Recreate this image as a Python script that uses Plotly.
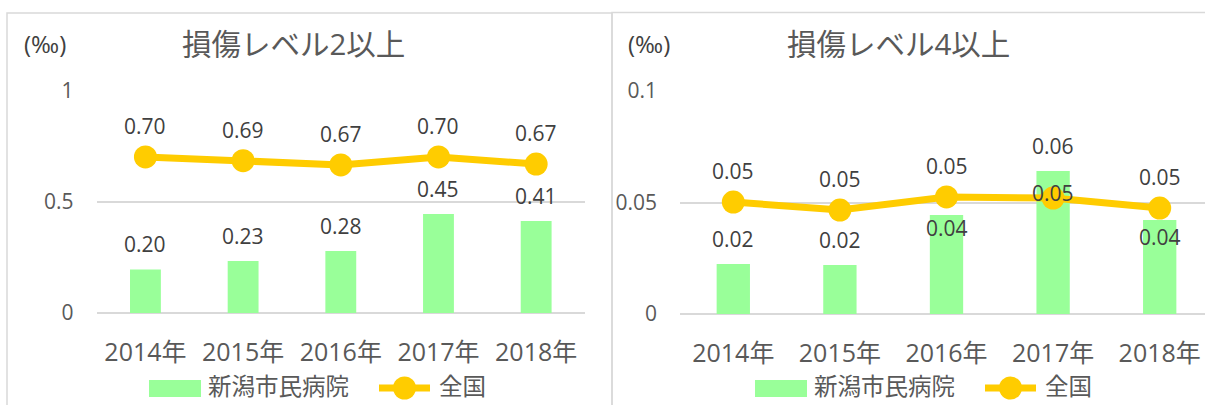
import plotly.graph_objects as go

W, H = 1205, 405

# ---------------- data ----------------
years = ["2014年", "2015年", "2016年", "2017年", "2018年"]
hosp_lv2 = [0.196, 0.234, 0.279, 0.446, 0.414]   # 新潟市民病院 (bars) 損傷レベル2以上
natl_lv2 = [0.703, 0.686, 0.667, 0.703, 0.671]   # 全国 (line) 損傷レベル2以上
hosp_lv4 = [0.0224, 0.0220, 0.0444, 0.0641, 0.0422]  # 新潟市民病院 損傷レベル4以上
natl_lv4 = [0.0502, 0.0466, 0.0525, 0.0520, 0.0475]  # 全国 損傷レベル4以上
series_names = ["新潟市民病院", "全国"]
titles = ["損傷レベル2以上", "損傷レベル4以上"]
unit = "(‰)"
ticks_lv2 = [0, 0.5, 1]
ticktext_lv2 = ["0", "0.5", "1"]
ticks_lv4 = [0, 0.05, 0.1]
ticktext_lv4 = ["0", "0.05", "0.1"]

# ---------------- style ----------------
GREEN = "#99FF99"
GOLD = "#FFCC00"
GRID = "#D9D9D9"
TXT = "#595959"
LBL = "#404040"
FONT = "Open Sans, Noto Sans CJK JP, sans-serif"
CJK = "Noto Sans CJK JP, sans-serif"

def px(x):
    return x / W

def py(y):
    return (H - y) / H

fig = go.Figure()

# left panel
fig.add_trace(go.Bar(x=years, y=hosp_lv2, name=series_names[0], marker=dict(color=GREEN, line=dict(width=0)),
                     width=0.316, xaxis="x", yaxis="y", showlegend=False, hoverinfo="skip"))
fig.add_trace(go.Scatter(x=years, y=natl_lv2, name=series_names[1], mode="lines+markers",
                         line=dict(color=GOLD, width=7), marker=dict(color=GOLD, size=23, line=dict(width=0)),
                         xaxis="x", yaxis="y", showlegend=False, hoverinfo="skip"))
# right panel
fig.add_trace(go.Bar(x=years, y=hosp_lv4, name=series_names[0], marker=dict(color=GREEN, line=dict(width=0)),
                     width=0.3125, xaxis="x2", yaxis="y2", showlegend=False, hoverinfo="skip"))
fig.add_trace(go.Scatter(x=years, y=natl_lv4, name=series_names[1], mode="lines+markers",
                         line=dict(color=GOLD, width=7), marker=dict(color=GOLD, size=23, line=dict(width=0)),
                         xaxis="x2", yaxis="y2", showlegend=False, hoverinfo="skip"))

annotations = []

def add_labels(xref, yref, vals, shifts):
    for xv, v, s in zip(years, vals, shifts):
        annotations.append(dict(x=xv, y=v, xref=xref, yref=yref, text=f"{v:.2f}", showarrow=False,
                                yshift=s, font=dict(family=FONT, size=21, color=LBL)))

add_labels("x", "y", hosp_lv2, [25, 25, 25, 25, 25])
add_labels("x", "y", natl_lv2, [31, 31, 31, 31, 31])
add_labels("x2", "y2", hosp_lv4, [25, 25, -13, 25, -17])
add_labels("x2", "y2", natl_lv4, [31, 31, 31, 5, 31])

# titles and unit labels
for cx, t in [(293, titles[0]), (898.5, titles[1])]:
    annotations.append(dict(x=px(cx), y=py(44), xref="paper", yref="paper", text=t, showarrow=False,
                            xanchor="center", yanchor="middle", font=dict(family=FONT, size=29.5, color=TXT)))
for cx in [45, 648.5]:
    annotations.append(dict(x=px(cx), y=py(44), xref="paper", yref="paper", text=unit, showarrow=False,
                            xanchor="center", yanchor="middle", font=dict(family=FONT, size=24, color="#404040")))

# manual legends (one per panel)
shapes = []
for (rx0, tx0, lx0, gx0) in [(149, 206, 376, 437), (755, 812, 982, 1043)]:
    shapes.append(dict(type="rect", xref="paper", yref="paper", x0=px(rx0), x1=px(rx0 + 52),
                       y0=py(397), y1=py(380), fillcolor=GREEN, line=dict(width=0)))
    shapes.append(dict(type="line", xref="paper", yref="paper", x0=px(lx0 + 3), x1=px(lx0 + 54),
                       y0=py(388), y1=py(388), line=dict(color=GOLD, width=7)))
    cxm = lx0 + 28.5
    shapes.append(dict(type="circle", xref="paper", yref="paper", x0=px(cxm - 11.5), x1=px(cxm + 11.5),
                       y0=py(399.5), y1=py(376.5), fillcolor=GOLD, line=dict(width=0)))
    annotations.append(dict(x=px(tx0), y=py(385), xref="paper", yref="paper", text=series_names[0],
                            showarrow=False, xanchor="left", yanchor="middle",
                            font=dict(family=CJK, size=23.5, color=TXT)))
    annotations.append(dict(x=px(gx0), y=py(385), xref="paper", yref="paper", text=series_names[1],
                            showarrow=False, xanchor="left", yanchor="middle",
                            font=dict(family=CJK, size=23.5, color=TXT)))

# panel borders
shapes.append(dict(type="rect", xref="paper", yref="paper", x0=px(7), x1=px(612), y0=-0.2, y1=py(13),
                   line=dict(color=GRID, width=1.5), fillcolor="rgba(0,0,0,0)", layer="below"))
shapes.append(dict(type="rect", xref="paper", yref="paper", x0=px(612), x1=1.2, y0=-0.2, y1=py(12.5),
                   line=dict(color=GRID, width=1.5), fillcolor="rgba(0,0,0,0)", layer="below"))

xcommon = dict(type="category", showgrid=False, zeroline=False, showline=False, ticks="", automargin=False,
               tickfont=dict(family=FONT, size=25, color=TXT), ticklabelstandoff=22, fixedrange=True)
ycommon = dict(showgrid=True, gridcolor=GRID, gridwidth=1.5, zeroline=True, zerolinecolor=GRID,
               zerolinewidth=2, showline=False, ticks="", automargin=False,
               tickfont=dict(family=FONT, size=21, color=TXT), ticklabelstandoff=22, fixedrange=True)

fig.update_layout(
    width=W, height=H, margin=dict(l=0, r=0, t=0, b=0, pad=0, autoexpand=False),
    autosize=False,
    paper_bgcolor="white", plot_bgcolor="rgba(0,0,0,0)",
    font=dict(family=FONT, color=TXT),
    xaxis=dict(domain=[px(96.6), px(585)], range=[-0.5, 4.5], anchor="y", **xcommon),
    yaxis=dict(domain=[py(313), py(91)], range=[0, 1], tickvals=ticks_lv2, ticktext=ticktext_lv2,
               anchor="x", **ycommon),
    xaxis2=dict(domain=[px(680), 1.0], range=[-0.5, -0.5 + (W - 680) / 106.6], anchor="y2", **xcommon),
    yaxis2=dict(domain=[py(314), py(91)], range=[0, 0.1], tickvals=ticks_lv4, ticktext=ticktext_lv4,
                anchor="x2", **ycommon),
    annotations=annotations, shapes=shapes, showlegend=False,
)

fig.write_html(
    "out.html",
    config={"responsive": False, "displayModeBar": False},
    post_script="document.body.style.margin='0';document.body.style.overflow='hidden';",
)
